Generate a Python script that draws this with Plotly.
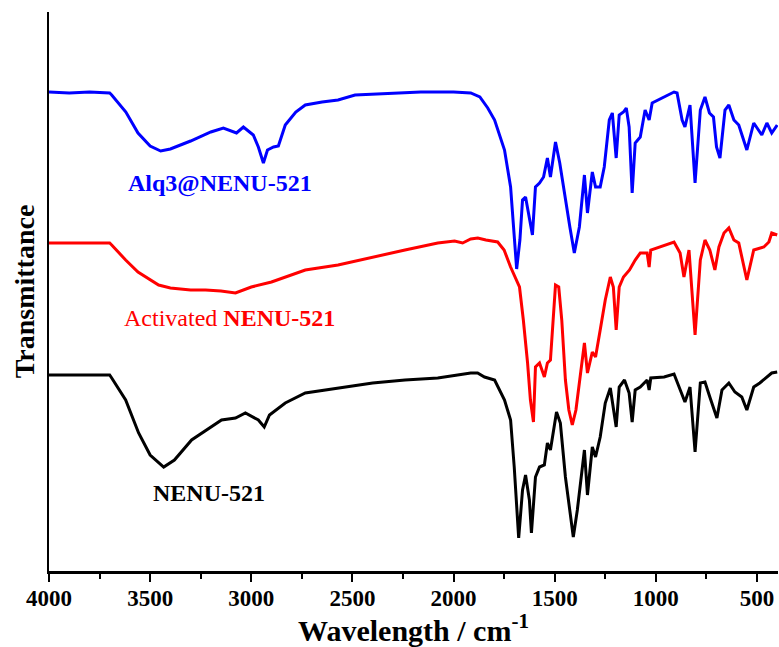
import plotly.graph_objects as go

# Wavenumbers (cm^-1) and transmittance (a.u., offset traces)
wn_alq3 = [4000,3900,3800,3700,3690,3620,3560,3500,3448,3400,3300,3200,3138,3073,3039,2990,2965,2940,2920,2890,
           2866,2832,2780,2733,2650,2571,2487,2300,2162,2000,1915,1870,1831,1797,1748,1718,1700,1688,1672,1659,
           1644,1625,1610,1595,1575,1555,1536,1521,1496,1475,1447,1425,1403,1378,1353,1338,1314,1298,1275,1255,
           1230,1215,1196,1181,1160,1146,1132,1117,1102,1077,1053,1033,1018,959,910,895,870,856,831,806,
           780,757,735,715,700,683,658,639,614,590,550,516,476,451,427,400]
t_alq3 = [479,478,479,478,476,459,438,425,420,422,430,439,443,438,444,436,424,408,421,424,
          425,446,459,466,469,471,476,478,479,479,478,474,463,451,421,384,338,302,331,371,
          374,354,336,384,388,394,413,394,429,408,371,344,318,344,396,358,399,384,384,404,
          451,458,413,456,459,463,444,378,428,434,461,451,468,474,479,478,451,444,466,388,
          461,474,458,454,424,413,461,466,451,446,421,448,436,448,438,446]

wn_act = [4000,3800,3700,3690,3621,3560,3458,3400,3300,3226,3150,3078,3040,3000,2900,2733,2571,2400,2240,2078,
          1995,1955,1915,1880,1840,1782,1750,1718,1674,1655,1634,1620,1605,1595,1575,1551,1536,1521,1496,1480,
          1465,1447,1430,1413,1395,1353,1338,1314,1298,1275,1250,1225,1210,1196,1181,1160,1130,1102,1077,1043,
          1033,1025,959,910,880,861,836,806,780,757,733,708,688,663,639,614,590,550,516,466,441,427,400]
t_act = [328,328,328,326,311,299,286,283,281,281,280,278,281,284,289,301,306,314,321,328,
         330,328,332,333,331,329,321,304,284,251,208,171,149,204,208,194,208,211,286,284,
         251,191,161,146,161,228,198,219,214,241,271,294,284,241,284,294,301,311,318,318,
         304,321,326,329,318,294,321,236,311,331,321,301,324,338,343,331,328,291,321,324,
         329,338,336]

wn_nenu = [4000,3800,3700,3690,3621,3557,3500,3433,3380,3295,3147,3078,3029,2965,2936,2910,2832,2733,2571,2400,
           2240,2078,1915,1881,1847,1797,1748,1718,1700,1678,1659,1644,1625,1615,1595,1575,1551,1536,1521,1491,
           1472,1447,1408,1388,1353,1338,1314,1298,1275,1250,1225,1196,1181,1155,1132,1117,1102,1077,1043,1033,
           1025,959,910,885,856,831,806,780,757,733,698,673,639,609,575,550,516,486,451,427,400]
t_nenu = [196,196,196,193,171,138,116,104,111,131,151,153,158,151,144,156,168,178,183,188,
          191,193,198,198,194,191,171,151,104,33,81,96,71,38,94,104,106,128,121,159,
          148,94,34,61,121,76,124,114,134,168,183,144,184,191,178,149,181,184,191,181,
          193,194,197,184,169,184,119,188,189,174,153,181,188,179,174,161,184,188,194,198,199]

x_ticks = [4000, 3500, 3000, 2500, 2000, 1500, 1000, 500]
x_minor = [3750, 3250, 2750, 2250, 1750, 1250, 750]

SERIF = "Times New Roman, Liberation Serif, serif"

fig = go.Figure()
fig.add_trace(go.Scatter(x=wn_alq3, y=t_alq3, mode="lines", line=dict(color="#0000ff", width=3), showlegend=False))
fig.add_trace(go.Scatter(x=wn_act, y=t_act, mode="lines", line=dict(color="#ff0000", width=3), showlegend=False))
fig.add_trace(go.Scatter(x=wn_nenu, y=t_nenu, mode="lines", line=dict(color="#000000", width=3), showlegend=False))

fig.add_annotation(x=3155, y=388, text="<b>Alq3@NENU-521</b>", showarrow=False,
                   font=dict(family=SERIF, size=24, color="#0000ff"))
fig.add_annotation(x=3110, y=253, text="Activated <b>NENU-521</b>", showarrow=False,
                   font=dict(family=SERIF, size=24, color="#ff0000"))
fig.add_annotation(x=3209, y=78, text="<b>NENU-521</b>", showarrow=False,
                   font=dict(family=SERIF, size=24, color="#000000"))

fig.update_layout(
    width=779, height=647,
    margin=dict(l=49, r=1, t=12, b=76),
    paper_bgcolor="white", plot_bgcolor="white",
    font=dict(family=SERIF, color="black"),
)
fig.update_xaxes(
    automargin=False,
    range=[4000, 396], showgrid=False, zeroline=False,
    showline=True, linecolor="black", linewidth=3,
    tickmode="array", tickvals=x_ticks, ticktext=[f"<b>{v}</b>" for v in x_ticks],
    ticks="outside", ticklen=8, tickwidth=2, tickcolor="black",
    ticklabelstandoff=-4,
    tickfont=dict(family=SERIF, size=23, color="black"),
    minor=dict(tickmode="array", tickvals=x_minor,
               ticks="outside", ticklen=5, tickwidth=2, tickcolor="black"),
    title=dict(text="<b>Wavelength / cm<sup>-1</sup></b>", font=dict(family=SERIF, size=30, color="black"), standoff=8),
)
fig.update_yaxes(
    automargin=False,
    range=[0, 559], showgrid=False, zeroline=False,
    showline=True, linecolor="black", linewidth=2,
    showticklabels=False, ticks="",
    title=dict(text="<b>Transmittance</b>", font=dict(family=SERIF, size=28, color="black"), standoff=4),
)

fig.write_html("out.html", config={"displayModeBar": False},
               post_script="document.body.style.margin='0';document.body.style.overflow='hidden';")
